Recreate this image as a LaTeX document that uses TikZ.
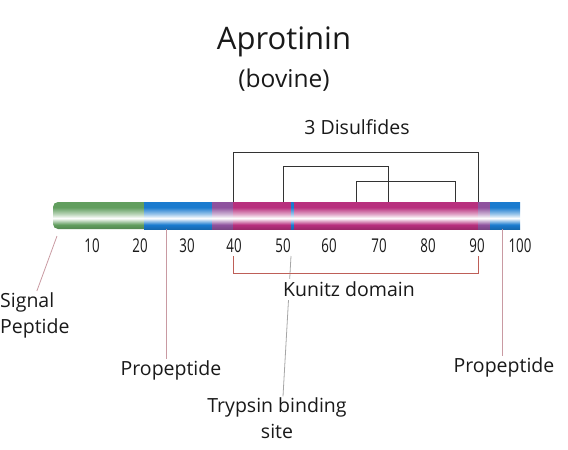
\documentclass[tikz,border=0pt]{standalone}
\usepackage{fontspec}
\setmainfont{Open Sans}
\newfontfamily\stretto[FakeStretch=0.7]{Open Sans}
\usetikzlibrary{positioning}
\definecolor{verde}{HTML}{619E5E}
\definecolor{blu}{HTML}{1A7BCF}
\definecolor{rosa}{HTML}{B8307E}
\definecolor{viola}{HTML}{8E529E}
\definecolor{guida}{HTML}{C99AA2}
\definecolor{kunitzcol}{HTML}{BE5F58}
\colorlet{tubocol}{blu}
\pgfdeclareverticalshading[tubocol]{tubo}{100bp}{color(0bp)=(tubocol!85!black); color(25bp)=(tubocol!85!black);
  color(33bp)=(tubocol); color(45bp)=(white); color(53bp)=(tubocol!45!white); color(65bp)=(tubocol); color(75bp)=(tubocol); color(100bp)=(tubocol)}
\newcommand{\segmento}[3]{\colorlet{tubocol}{#3}\shade[shading=tubo] (#1,202) rectangle (#2,229);}
\tikzset{
  etichetta/.style={font=\fontsize{19.5}{26}\selectfont, text=black!90, inner sep=1pt},
  numero/.style={font=\stretto\fontsize{19}{22}\selectfont, text=black!90, inner sep=0pt},
  ponte/.style={draw=black!80, line width=0.9pt},
  lineaguida/.style={draw=guida, line width=0.8pt},
}
\begin{document}
\begin{tikzpicture}[x=1pt, y=-1pt]
    \useasboundingbox (0,0) rectangle (568,450);
    % Titolo
    \node[font=\fontsize{31}{36}\selectfont, text=black!90] (titolo) at (284,42) {Aprotinin};
    \node[font=\fontsize{24.5}{28}\selectfont, text=black!90] (bovino) at (284,80) {(bovine)};
    % Catena
    \colorlet{tubocol}{verde}
    \shade[shading=tubo] (145,202) [rounded corners=5pt] -- (53,202) -- (53,229) [sharp corners] -- (145,229) -- cycle;
    \segmento{144}{212.5}{blu}
    \segmento{212}{233.5}{viola}
    \segmento{233}{478.5}{rosa}
    \segmento{478}{490.5}{viola}
    \segmento{490}{520}{blu}
    \segmento{291}{293.5}{blu}
    % Numeri
    \foreach \n/\x in {10/92, 20/140, 30/187, 40/234, 50/283, 60/329, 70/379, 80/428, 90/477, 100/520}
        \node[numero] (n\n) at (\x,246) {\n};
    % Ponti disolfuro
    \node[etichetta] (disolfuri) at (357,127) {3 Disulfides};
    \foreach \a/\b/\h in {233/478/152, 283/388/166, 356/455/181} {
        \coordinate (s\a) at (\a,202);
        \coordinate (e\b) at (\b,202);
        \draw[ponte] (s\a) -- (\a,\h) -- (\b,\h) -- (e\b);
    }
    % Etichette in basso
    \node[etichetta, align=left, anchor=north west] (segnale) at (-1,291) {Signal\\Peptide};
    \node[etichetta] (pro1) at (171,370) {Propeptide};
    \node[etichetta, align=center] (tripsina) at (277,418) {Trypsin binding\\site};
    \node[etichetta] (pro2) at (504,367) {Propeptide};
    \coordinate (sp) at (57,236);
    \coordinate (pp1) at (166,229);
    \coordinate (pp2) at (502,229);
    \coordinate (ts) at (291,256);
    \draw[lineaguida] (sp) -- ([xshift=2]segnale.north);
    \draw[lineaguida] (pp1) -- (pro1.north -| pp1);
    \draw[lineaguida] (pp2) -- (pro2.north -| pp2);
    \draw[lineaguida, draw=black!35] (ts) -- ([xshift=6]tripsina.north);
    % Dominio Kunitz
    \coordinate (k1) at (233,256);
    \coordinate (k2) at (478,256);
    \draw[kunitzcol, line width=0.9pt] (k1) -- ++(0,17) -| (k2);
    \node[etichetta, fill=white, inner sep=3pt] (kunitz) at (349,289) {Kunitz domain};
\end{tikzpicture}
\end{document}
